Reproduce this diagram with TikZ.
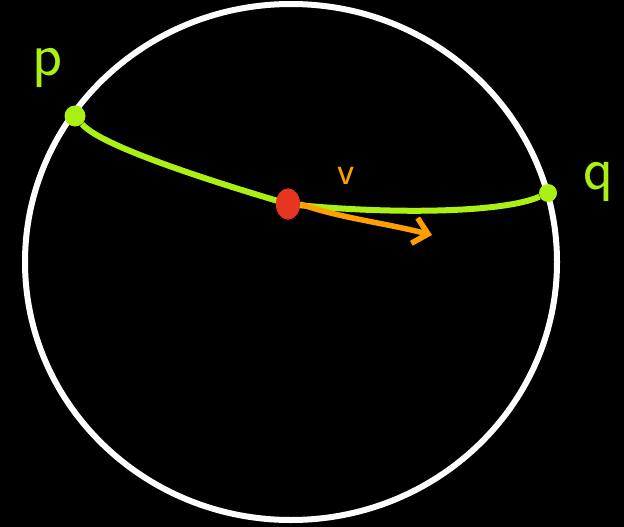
\documentclass[tikz,border=0pt]{standalone}
\usepackage{tikz}
\usetikzlibrary{arrows.meta,positioning,shapes.geometric}
\definecolor{lime}{RGB}{170,240,20}
\definecolor{blob}{RGB}{232,52,32}
\definecolor{amber}{RGB}{255,160,0}

\begin{document}
\begin{tikzpicture}[x=1pt,y=-1pt]
  % sketch of a chord through a sphere with a direction v
  \tikzset{dot/.style={circle,fill=lime,inner sep=0pt,minimum size=21pt},
           lab/.style={font=\fontsize{62}{62}\sffamily\selectfont,text=lime},
           spot/.style={ellipse,fill=blob,inner sep=0pt,minimum width=24pt,minimum height=31pt}}
  \fill[black] (0,0) rectangle (624,527);
  \useasboundingbox (0,0) rectangle (624,527);
  \draw[white,line width=6pt] (291,262) ellipse [x radius=266,y radius=258];
  \node[dot] (p) at (75,116) {};
  \node[dot,minimum size=18pt] (q) at (548,193) {};
  \node[spot] (m) at (288,204) {};
  \node[lab] (pl) at (48,68) {p};
  \node[lab] (ql) at (598,182) {q};
  \node[font=\fontsize{40}{40}\sffamily\selectfont,text=amber] (vl) at (346,176) {v};
  \coordinate (tip) at (432,235);
  \draw[lime,line width=6pt] (p) .. controls (100,145) and (200,178) .. (m.center)
    .. controls (380,214) and (500,214) .. (q);
  \draw[amber,line width=5.5pt,-{Straight Barb[length=14pt,width=26pt]}] (m.east) .. controls (340,218) and (380,222) .. (tip);
  \node[spot] at (m) {};
\end{tikzpicture}
\end{document}
